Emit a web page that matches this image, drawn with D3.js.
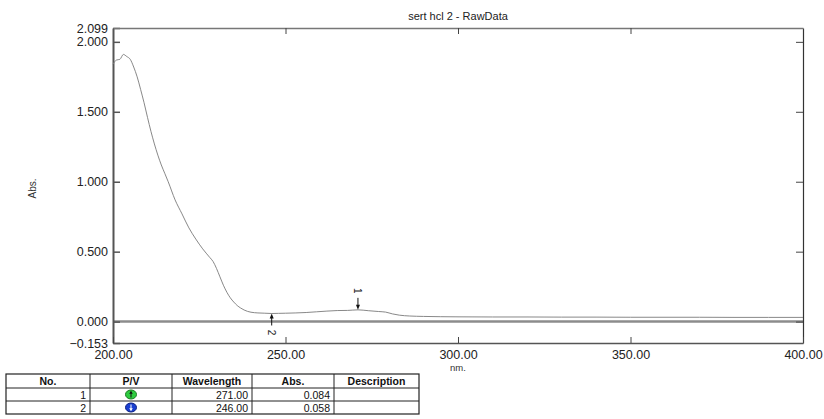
<!DOCTYPE html>
<html>
<head>
<meta charset="utf-8">
<script src="https://cdn.jsdelivr.net/npm/d3@7"></script>
<style>
  body { margin: 0; background: #fff; }
  svg { display: block; font-family: "Liberation Sans", Arial, sans-serif; }
</style>
</head>
<body>
<svg width="824" height="419"></svg>
<script>
// spectrum
const wavelength = [200, 201, 202, 203, 204, 205, 206, 207, 208, 209, 210, 211, 212, 213, 214, 215, 216, 218, 220, 222, 224, 226, 228, 229, 230, 231, 232, 233, 234, 235, 236, 237, 238, 239, 240, 242, 244, 246, 248, 250, 253, 256, 259, 262, 265, 268, 271, 274, 277, 279, 281, 283, 286, 290, 295, 300, 310, 320, 330, 340, 350, 360, 370, 380, 390, 400];
const absorbance = [1.84, 1.87, 1.875, 1.91, 1.895, 1.875, 1.82, 1.75, 1.66, 1.565, 1.46, 1.36, 1.27, 1.19, 1.12, 1.06, 1.0, 0.87, 0.77, 0.67, 0.59, 0.52, 0.46, 0.43, 0.38, 0.32, 0.26, 0.21, 0.17, 0.14, 0.115, 0.097, 0.083, 0.073, 0.067, 0.062, 0.06, 0.058, 0.059, 0.06, 0.062, 0.065, 0.07, 0.075, 0.079, 0.08, 0.084, 0.078, 0.072, 0.068, 0.055, 0.046, 0.04, 0.037, 0.035, 0.034, 0.033, 0.033, 0.032, 0.032, 0.031, 0.031, 0.031, 0.03, 0.03, 0.03];

// peak table
const peakNo = [1, 2];
const peakType = ["P", "V"];
const peakWl = [271.0, 246.0];
const peakAbs = [0.084, 0.058];
const tableHead = ["No.", "P/V", "Wavelength", "Abs.", "Description"];

const xTicks = [200, 250, 300, 350, 400];
const yTicks = [-0.153, 0, 0.5, 1, 1.5, 2, 2.099];

const svg = d3.select("svg");
const pL = 113, pR = 803, pT = 28, pB = 343;

const x = d3.scaleLinear().domain([200, 400]).range([pL, pR]);
const y = d3.scaleLinear().domain([-0.153, 2.099]).range([pB, pT]);

const fmtY = d3.format(".3f"), fmtX = d3.format(".2f");

// title
svg.append("text")
  .attr("x", (pL + pR) / 2).attr("y", 20)
  .attr("text-anchor", "middle").attr("font-size", 11).attr("fill", "#222")
  .text("sert hcl 2 - RawData");

// zero line
svg.append("line")
  .attr("x1", pL).attr("x2", pR)
  .attr("y1", y(0)).attr("y2", y(0))
  .attr("stroke", "#8c8c8c").attr("stroke-width", 2.5);

// left axis
const yAxis = d3.axisLeft(y).tickValues(yTicks).tickFormat(fmtY)
  .tickSizeInner(-7).tickSizeOuter(0).tickPadding(5);
const gy = svg.append("g").attr("transform", `translate(${pL},0)`).call(yAxis);
gy.select(".domain").attr("stroke", "#555").attr("stroke-width", 2);
gy.selectAll(".tick line").attr("stroke", "#555").attr("stroke-width", 1.5);
gy.selectAll("text").attr("font-size", 12.5).attr("fill", "#222").attr("font-family", null);

// right axis ticks
const gyr = svg.append("g").attr("transform", `translate(${pR},0)`)
  .call(d3.axisRight(y).tickValues(yTicks.slice(1, 6)).tickFormat("").tickSizeInner(-7).tickSizeOuter(0));
gyr.select(".domain").attr("stroke", "#333").attr("stroke-width", 1.2);
gyr.selectAll(".tick line").attr("stroke", "#444");

// bottom axis
const xAxis = d3.axisBottom(x).tickValues(xTicks).tickFormat(fmtX)
  .tickSizeInner(-6).tickSizeOuter(0).tickPadding(7);
const gx = svg.append("g").attr("transform", `translate(0,${pB})`).call(xAxis);
gx.select(".domain").attr("stroke", "#555").attr("stroke-width", 1.5);
gx.selectAll(".tick line").attr("stroke", "#444");
gx.selectAll("text").attr("font-size", 12.5).attr("fill", "#222").attr("font-family", null);

// top axis ticks
const gxt = svg.append("g").attr("transform", `translate(0,${pT})`)
  .call(d3.axisTop(x).tickValues(xTicks.slice(1, 4)).tickFormat("").tickSizeInner(-6).tickSizeOuter(0));
gxt.select(".domain").attr("stroke", "#777").attr("stroke-width", 1.5);
gxt.selectAll(".tick line").attr("stroke", "#444");

// axis titles
svg.append("text")
  .attr("transform", `translate(36,${(pT + pB) / 2 + 3}) rotate(-90)`)
  .attr("text-anchor", "middle").attr("font-size", 10).attr("fill", "#333")
  .text("Abs.");
svg.append("text")
  .attr("x", (pL + pR) / 2).attr("y", 371)
  .attr("text-anchor", "middle").attr("font-size", 9.5).attr("fill", "#333")
  .text("nm.");

// spectrum
const pts = wavelength.map((w, i) => [w, absorbance[i]]);
svg.append("path")
  .datum(pts)
  .attr("fill", "none").attr("stroke", "#7a7a7a").attr("stroke-width", 0.9)
  .attr("d", d3.line().x(d => x(d[0])).y(d => y(d[1])).curve(d3.curveMonotoneX));

// peak / valley markers
peakNo.forEach((n, i) => {
  const px = x(peakWl[i]), py = y(peakAbs[i]);
  const dir = peakType[i] === "P" ? -1 : 1; // arrow comes from above for a peak
  const g = svg.append("g");
  g.append("line")
    .attr("x1", px).attr("x2", px)
    .attr("y1", py + dir * 12).attr("y2", py + dir * 4)
    .attr("stroke", "#111").attr("stroke-width", 1);
  g.append("path")
    .attr("d", `M${px},${py} L${px - 2},${py + dir * 5} L${px + 2},${py + dir * 5} Z`)
    .attr("fill", "#111");
  g.append("text")
    .attr("transform", `translate(${px},${py + dir * 19}) rotate(90)`)
    .attr("text-anchor", "middle").attr("dy", "0.35em")
    .attr("font-size", 10).attr("fill", "#222")
    .text(n);
});

// peak table
const colX = [6, 90, 172, 252, 334, 419];
const rowY = [374, 388, 401, 414];
const tb = svg.append("g");
tb.append("rect")
  .attr("x", colX[0]).attr("y", rowY[0])
  .attr("width", colX[5] - colX[0]).attr("height", rowY[3] - rowY[0])
  .attr("fill", "none").attr("stroke", "#222").attr("stroke-width", 1.2);
colX.slice(1, 5).forEach(cx => {
  tb.append("line").attr("x1", cx).attr("x2", cx).attr("y1", rowY[0]).attr("y2", rowY[3])
    .attr("stroke", "#222").attr("stroke-width", 1);
});
rowY.slice(1, 3).forEach(ry => {
  tb.append("line").attr("x1", colX[0]).attr("x2", colX[5]).attr("y1", ry).attr("y2", ry)
    .attr("stroke", "#222").attr("stroke-width", 1);
});
tableHead.forEach((h, j) => {
  tb.append("text")
    .attr("x", (colX[j] + colX[j + 1]) / 2).attr("y", rowY[0] + 11)
    .attr("text-anchor", "middle").attr("font-size", 10.5).attr("font-weight", "bold")
    .attr("fill", "#111").text(h);
});
peakNo.forEach((n, i) => {
  const base = rowY[i + 1] + 10.5;
  tb.append("text").attr("x", colX[1] - 4).attr("y", base)
    .attr("text-anchor", "end").attr("font-size", 10.5).attr("fill", "#111").text(n);
  tb.append("text").attr("x", colX[3] - 4).attr("y", base)
    .attr("text-anchor", "end").attr("font-size", 10.5).attr("fill", "#111").text(fmtX(peakWl[i]));
  tb.append("text").attr("x", colX[4] - 4).attr("y", base)
    .attr("text-anchor", "end").attr("font-size", 10.5).attr("fill", "#111").text(fmtY(peakAbs[i]));
  // P/V icon
  const cx = (colX[1] + colX[2]) / 2, cy = rowY[i + 1] + 6.5;
  const isPeak = peakType[i] === "P";
  tb.append("ellipse").attr("cx", cx).attr("cy", cy).attr("rx", 5.5).attr("ry", 4.5)
    .attr("fill", isPeak ? "#2ecc40" : "#1a3fd1").attr("stroke", isPeak ? "#1a7a20" : "#0b1f80");
  const d = isPeak ? -1 : 1;
  tb.append("line").attr("x1", cx).attr("x2", cx).attr("y1", cy - d * 3).attr("y2", cy + d * 3)
    .attr("stroke", isPeak ? "#111" : "#fff").attr("stroke-width", 1);
  tb.append("path")
    .attr("d", `M${cx},${cy + d * 3.5} L${cx - 1.8},${cy + d * 0.8} L${cx + 1.8},${cy + d * 0.8} Z`)
    .attr("fill", isPeak ? "#111" : "#fff");
});
</script>
</body>
</html>
